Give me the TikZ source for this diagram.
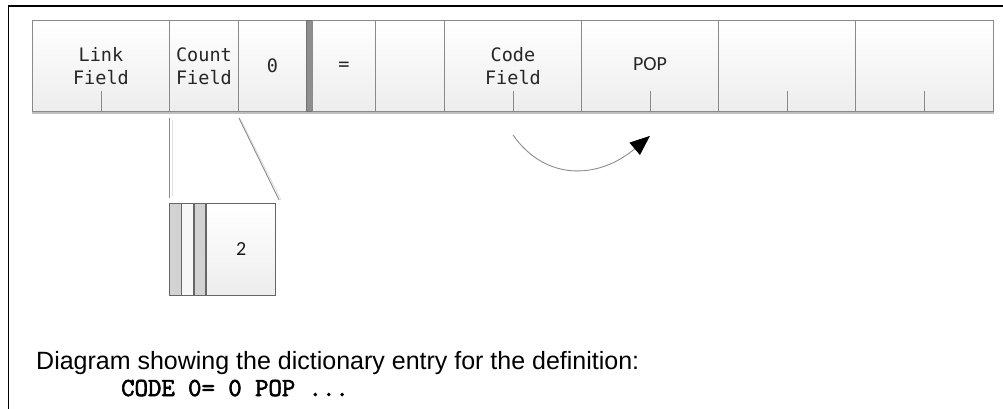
\documentclass[tikz,border=0pt]{standalone}
\usepackage{fontspec}
\setmainfont{Liberation Sans}
\newfontfamily\cellmono{DejaVu Sans Mono}
\newfontfamily\cellsans{Carlito}
\newfontfamily\codefont{Latin Modern Mono}[FakeBold=2.5]
\usetikzlibrary{calc,arrows.meta}
\definecolor{edge}{HTML}{8A8A8A}
\definecolor{bar}{HTML}{8E8E8E}
\definecolor{stripe}{HTML}{D2D2D2}
\definecolor{ink}{HTML}{262626}
\tikzset{
  cell/.style={draw=edge, line width=0.9pt, top color=white, bottom color=black!7,
    minimum height=91pt, inner sep=0pt, anchor=north west, align=center,
    font=\cellmono\fontsize{18.5}{23}\selectfont, text=ink},
  sanscell/.style={cell, font=\cellsans\fontsize{20}{24}\selectfont},
  tick/.style={draw=edge, line width=0.9pt},
  guide/.style={draw=edge, line width=0.9pt},
  guideshade/.style={draw=black!12, line width=0.9pt},
  stripebox/.style={draw=black!60, line width=0.9pt, minimum height=92pt,
    inner sep=0pt, anchor=north west},
}
\begin{document}
\begin{tikzpicture}[x=1pt,y=-1pt]
\useasboundingbox (0,0) rectangle (1003,409);

% outer frame (left and top edges)
\draw[black, line width=1.6pt] (8.5,409) -- (8.5,6) -- (1003,6);

% dictionary entry cells
\node[cell, minimum width=137pt] (link)  at (32,20)  {Link\\Field};
\node[cell, minimum width=69pt]  (count) at (169,20) {Count\\Field};
\node[cell, minimum width=68pt]  (zero)  at (238,20) {0};
\node[draw=black!55, fill=bar, line width=0.9pt, minimum width=6pt, minimum height=91pt,
      inner sep=0pt, anchor=north west] (sep) at (306,20) {};
\node[cell, minimum width=63pt]  (eq)    at (312,20) {=};
\node[cell, minimum width=69pt]  (blank) at (375,20) {};
\node[cell, minimum width=137pt] (code)  at (444,20) {Code\\Field};
\node[sanscell, minimum width=137pt] (pop) at (581,20) {\raisebox{3pt}{POP}};
\node[cell, minimum width=137pt] (c8)    at (718,20) {};
\node[cell, minimum width=138pt] (c9)    at (855,20) {};

% bottom shadow of the row
\draw[draw=black!25, line width=1.2pt] ($(link.south west)+(0,1.2)$) -- ($(c9.south east)+(0,1.2)$);

% tick marks in the wide cells
\foreach \c in {link,code,pop,c8,c9}
  \draw[tick] (\c.south) -- ++(0,-21);

% expanded count byte
\node[stripebox, fill=stripe, minimum width=11.5pt] (s1) at (169,203) {};
\node[stripebox, fill=black!3, minimum width=11.5pt, anchor=north west] (s2) at (s1.north east) {};
\node[stripebox, fill=stripe, minimum width=11.5pt, anchor=north west] (s3) at (s2.north east) {};
\node[stripebox, top color=white, bottom color=black!7, minimum width=69pt, anchor=north west,
      font=\cellsans\fontsize{20}{24}\selectfont, text=black!90] (num) at (s3.north east) {2};

% guide lines from the count field to its expansion
\draw[guideshade] ($(count.south west)+(3.5,8)$) -- ($(s1.north west)+(3.5,-7)$);
\draw[guide] ($(count.south west)+(0,6)$) -- ($(s1.north west)+(0,-5)$);
\draw[guideshade] ($(count.south east)+(1.5,7)$) -- ($(num.north east)+(5,-3)$);
\draw[guide] ($(count.south east)+(0,6)$) -- ($(num.north east)+(3,-3)$);

% code field points to the POP routine
\coordinate (arrS) at ($(code.south)+(0,23)$);
\coordinate (arrE) at ($(pop.south)+(0,24)$);
\draw[draw=black!45, line width=0.9pt, -{Triangle[length=20pt,width=16pt,color=black]}]
  (arrS) .. controls ($(arrS)+(32,46)$) and ($(arrE)+(-52,44)$) .. (arrE);

% caption
\node[anchor=base west, font=\fontsize{25}{30}\selectfont, inner sep=0pt] (cap) at (36,369)
  {Diagram showing the dictionary entry for the definition:};
\node[anchor=base west, font=\codefont\fontsize{26}{30}\selectfont, inner sep=0pt] (def) at (121,396)
  {CODE 0= 0 POP ...};
\end{tikzpicture}
\end{document}
